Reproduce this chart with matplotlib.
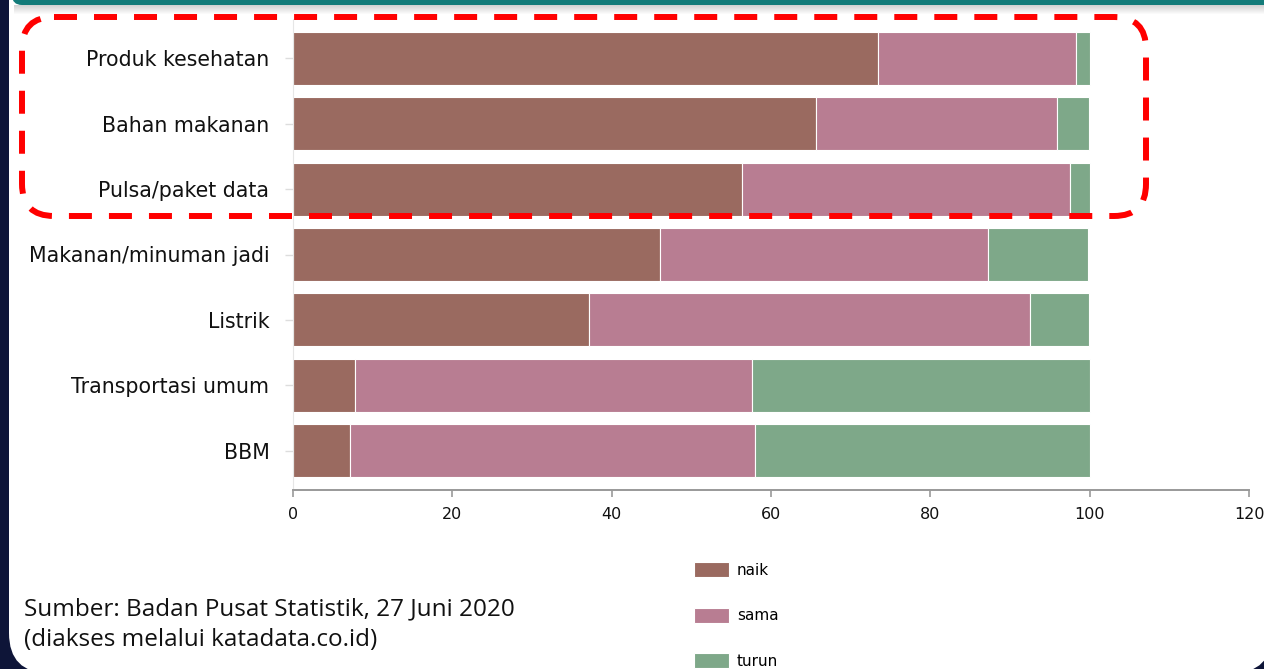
import numpy as np
import matplotlib
matplotlib.use("Agg")
import matplotlib.pyplot as plt
from matplotlib.patches import FancyBboxPatch, Rectangle

plt.rcParams["font.family"] = ["DejaVu Sans"]

# ---------------------------------------------------------------------------
# Data (percent of respondents)
# ---------------------------------------------------------------------------
categories = ["Produk kesehatan", "Bahan makanan", "Pulsa/paket data",
              "Makanan/minuman jadi", "Listrik", "Transportasi umum", "BBM"]
naik = [73.4, 65.6, 56.4, 46.1, 37.1, 7.8, 7.2]
sama = [24.9, 30.3, 41.1, 41.1, 55.4, 49.8, 50.8]
turun = [1.7, 4.0, 2.5, 12.6, 7.4, 42.4, 42.0]
series_labels = ["naik", "sama", "turun"]
xticks = [0, 20, 40, 60, 80, 100, 120]
source_lines = ["Sumber: Badan Pusat Statistik, 27 Juni 2020",
                "(diakses melalui katadata.co.id)"]

COLORS = ["#9a6a60", "#b87d92", "#7ea889"]
NAVY = "#0e1538"
TEAL = "#137b79"
W, H = 1264, 669

fig = plt.figure(figsize=(W / 100, H / 100), dpi=100, facecolor=NAVY)

# background panel (pixel coordinates)
bg = fig.add_axes([0, 0, 1, 1], zorder=0)
bg.set_xlim(0, W)
bg.set_ylim(H, 0)
bg.axis("off")
bg.add_patch(FancyBboxPatch((9, -60), 1263, 733, boxstyle="round,pad=0,rounding_size=40",
                            fc="white", ec="none"))
for i, a in enumerate(np.linspace(0.35, 0.0, 10)):
    bg.add_patch(Rectangle((14, 5 + i), W, 1, fc="black", ec="none", alpha=a * 0.5))
bg.add_patch(FancyBboxPatch((12, -30), 1300, 35, boxstyle="round,pad=0,rounding_size=10",
                            fc=TEAL, ec="none"))

# main chart
ax = fig.add_axes([293 / W, 1 - 490 / H, (1249 - 293) / W, (490 - 19) / H], zorder=1)
ax.patch.set_alpha(0)
y = np.arange(len(categories))
left = np.zeros(len(categories))
handles = []
for vals, col, lab in zip([naik, sama, turun], COLORS, series_labels):
    h = ax.barh(y, vals, left=left, height=0.81, color=col, edgecolor="white",
                linewidth=0.8, label=lab)
    handles.append(h)
    left = left + np.asarray(vals)

ax.set_xlim(0, 120)
ax.set_ylim(len(categories) - 0.4, -0.6)
ax.set_yticks(y)
ax.set_yticklabels(categories, fontsize=14.8, color="#111111")
ax.set_xticks(xticks)
ax.set_xticklabels([str(t) for t in xticks], fontsize=11.5, color="#111111")
ax.tick_params(axis="y", length=6, width=1, color="#dddddd", pad=11)
ax.tick_params(axis="x", length=5, width=1.2, color="#999999", pad=7)
for s in ["top", "right"]:
    ax.spines[s].set_visible(False)
ax.spines["left"].set_color("#e6e6e6")
ax.spines["bottom"].set_color("#999999")
ax.spines["bottom"].set_linewidth(1.4)

fig.legend(handles=handles, labels=series_labels, loc="upper left",
           bbox_to_anchor=(694 / W, 1 - 562 / H), frameon=False, fontsize=11,
           handlelength=2.3, handleheight=1.15, labelspacing=1.95,
           handletextpad=0.5, borderpad=0, borderaxespad=0)

# overlay: red dashed highlight and source note
ov = fig.add_axes([0, 0, 1, 1], zorder=2)
ov.set_xlim(0, W)
ov.set_ylim(H, 0)
ov.axis("off")
ov.patch.set_alpha(0)
ov.add_patch(FancyBboxPatch((22, 17), 1124, 199, boxstyle="round,pad=0,rounding_size=32",
                            fc="none", ec="#ff0000", lw=4.3, ls=(0, (3.85, 2.85))))
ov.text(24, 609, source_lines[0], fontsize=17.5, family="Open Sans", va="center", color="#111111")
ov.text(24, 640, source_lines[1], fontsize=17.5, family="Open Sans", va="center", color="#111111")

fig.savefig("out.png", dpi=100, facecolor=NAVY)
